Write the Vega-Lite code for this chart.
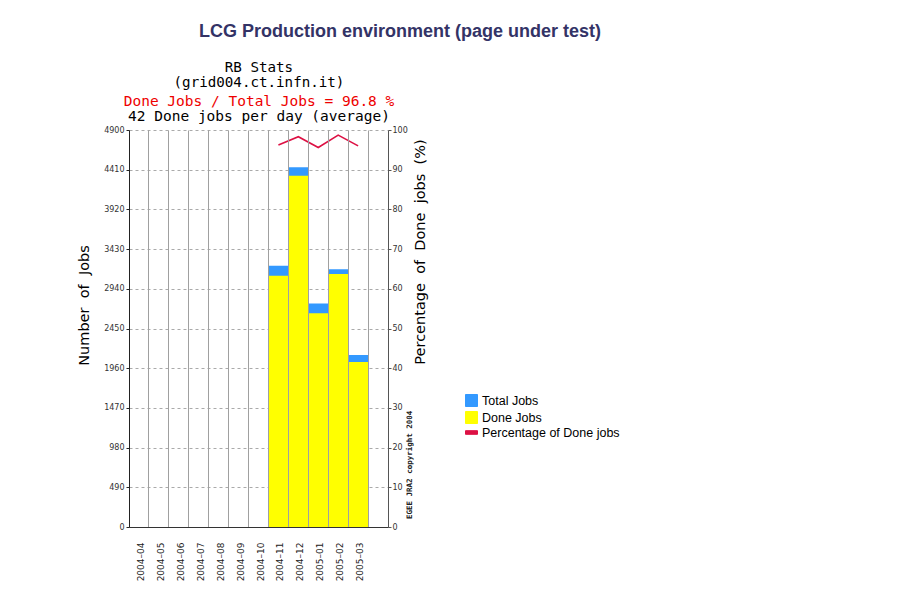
{
  "$schema": "https://vega.github.io/schema/vega-lite/v6.json",
  "width": 259,
  "height": 397,
  "autosize": {"type": "none"},
  "padding": {"left": 129, "top": 130, "right": 531, "bottom": 70},
  "background": "white",
  "title": {
    "text": "LCG Production environment (page under test)",
    "anchor": "middle",
    "frame": "group",
    "dx": 141.5,
    "offset": 6,
    "baseline": "alphabetic",
    "font": "Liberation Sans",
    "fontSize": 18,
    "fontWeight": "bold",
    "color": "#333366"
  },
  "config": {
    "view": {"stroke": null},
    "axis": {"labelFont": "DejaVu Sans", "titleFont": "DejaVu Sans"}
  },
  "data": {
    "values": [
      {"month": "2004-04", "total": 0, "done": 0},
      {"month": "2004-05", "total": 0, "done": 0},
      {"month": "2004-06", "total": 0, "done": 0},
      {"month": "2004-07", "total": 0, "done": 0},
      {"month": "2004-08", "total": 0, "done": 0},
      {"month": "2004-09", "total": 0, "done": 0},
      {"month": "2004-10", "total": 0, "done": 0},
      {"month": "2004-11", "total": 3224, "done": 3100, "pct": 96.2},
      {"month": "2004-12", "total": 4440, "done": 4335, "pct": 98.3},
      {"month": "2005-01", "total": 2760, "done": 2638, "pct": 95.6},
      {"month": "2005-02", "total": 3182, "done": 3123, "pct": 98.7},
      {"month": "2005-03", "total": 2122, "done": 2035, "pct": 96.0}
    ]
  },
  "resolve": {"scale": {"y": "independent"}, "axis": {"x": "independent"}},
  "layer": [
    {
      "mark": {"type": "bar"},
      "encoding": {
        "x": {
          "field": "month",
          "type": "ordinal",
          "scale": {
            "domain": ["2004-04","2004-05","2004-06","2004-07","2004-08","2004-09","2004-10","2004-11","2004-12","2005-01","2005-02","2005-03"," "],
            "paddingInner": 0,
            "paddingOuter": 0
          },
          "axis": {
            "orient": "bottom",
            "title": null,
            "bandPosition": 0,
            "grid": true,
            "gridColor": "#a0a0a0",
            "gridWidth": 1,
            "ticks": false,
            "labelAngle": -90,
            "labelAlign": "right",
            "labelBaseline": "middle",
            "labelOffset": 2,
            "labelPadding": 15,
            "labelFont": "DejaVu Sans",
            "labelFontSize": 9,
            "labelColor": "#222222",
            "labelExpr": "replace(datum.label, '-', '–')",
            "domain": true,
            "domainColor": "#333333",
            "zindex": 1
          }
        },
        "y": {
          "field": "total",
          "type": "quantitative",
          "scale": {"domain": [0, 4900], "nice": false, "zero": true},
          "axis": {
            "orient": "left",
            "values": [0, 490, 980, 1470, 1960, 2450, 2940, 3430, 3920, 4410, 4900],
            "format": "d",
            "grid": false,
            "zindex": 1,
            "domainColor": "#222222",
            "tickColor": "#222222",
            "tickSize": 3,
            "labelPadding": 2,
            "labelFontSize": 8,
            "labelColor": "#333333",
            "title": "Number\u00a0\u00a0of\u00a0\u00a0Jobs",
            "titleFontSize": 14.5,
            "titleFontWeight": "normal",
            "titleColor": "#000000",
            "titlePadding": 12,
            "titleY": 175
          }
        },
        "color": {
          "datum": "Total Jobs",
          "type": "nominal",
          "scale": {
            "domain": ["Total Jobs", "Done Jobs", "Percentage of Done jobs"],
            "range": ["#3399ff", "#ffff00", "#dd1144"]
          },
          "legend": {
            "orient": "none",
            "legendX": 336,
            "legendY": 264,
            "title": null,
            "padding": 0,
            "symbolType": "square",
            "symbolSize": 144,
            "labelFont": "Liberation Sans",
            "labelFontSize": 12.5,
            "labelColor": "#000000",
            "labelOffset": 4,
            "rowPadding": 0,
            "encode": {
              "symbols": {
                "update": {
                  "shape": {"signal": "datum.value === 'Percentage of Done jobs' ? 'M-1,-0.3H1V0.3H-1Z' : 'square'"},
                  "fill": {"scale": "color", "field": "value"},
                  "stroke": {"signal": "datum.value === 'Percentage of Done jobs' ? 'transparent' : '#333333'"},
                  "strokeWidth": {"value": 1},
                  "opacity": {"value": 1},
                  "fillOpacity": {"value": 1}
                }
              }
            }
          }
        }
      }
    },
    {
      "mark": {"type": "bar"},
      "encoding": {
        "x": {
          "field": "month",
          "type": "ordinal",
          "scale": {
            "domain": ["2004-04","2004-05","2004-06","2004-07","2004-08","2004-09","2004-10","2004-11","2004-12","2005-01","2005-02","2005-03"," "],
            "paddingInner": 0,
            "paddingOuter": 0
          },
          "axis": {
            "orient": "top",
            "offset": 43.5,
            "labels": false,
            "ticks": false,
            "domain": false,
            "grid": false,
            "minExtent": 0,
            "maxExtent": 0,
            "title": ["RB Stats", "(grid004.ct.infn.it)"],
            "titleLineHeight": 15,
            "titleFont": "DejaVu Sans Mono",
            "titleFontSize": 14.2,
            "titleFontWeight": "normal",
            "titleColor": "#000000",
            "titleBaseline": "alphabetic",
            "titlePadding": 0
          }
        },
        "y": {
          "field": "done",
          "type": "quantitative",
          "scale": {"domain": [0, 4900], "nice": false},
          "axis": {
            "orient": "left",
            "values": [490, 980, 1470, 1960, 2450, 2940, 3430, 3920, 4410, 4900],
            "grid": true,
            "gridColor": "#aaaaaa",
            "gridDash": [3, 3],
            "gridWidth": 1,
            "labels": false,
            "ticks": false,
            "domain": false,
            "title": null,
            "zindex": 0
          }
        },
        "color": {"datum": "Done Jobs", "type": "nominal"}
      }
    },
    {
      "mark": {"type": "line", "strokeWidth": 1.6},
      "encoding": {
        "x": {
          "field": "month",
          "type": "ordinal",
          "scale": {
            "domain": ["2004-04","2004-05","2004-06","2004-07","2004-08","2004-09","2004-10","2004-11","2004-12","2005-01","2005-02","2005-03"," "],
            "paddingInner": 0,
            "paddingOuter": 0
          },
          "axis": {
            "orient": "top",
            "offset": 25,
            "labels": false,
            "ticks": false,
            "domain": false,
            "grid": false,
            "minExtent": 0,
            "maxExtent": 0,
            "title": "Done Jobs / Total Jobs = 96.8 %",
            "titleFont": "DejaVu Sans Mono",
            "titleFontSize": 14.5,
            "titleFontWeight": "normal",
            "titleColor": "#ee0000",
            "titleBaseline": "alphabetic",
            "titlePadding": 0
          }
        },
        "y": {
          "field": "pct",
          "type": "quantitative",
          "scale": {"domain": [0, 100], "nice": false},
          "axis": {
            "orient": "right",
            "values": [0, 10, 20, 30, 40, 50, 60, 70, 80, 90, 100],
            "format": "d",
            "grid": false,
            "domainColor": "#555555",
            "tickColor": "#555555",
            "tickSize": 3,
            "labelPadding": 1,
            "labelFontSize": 8,
            "labelColor": "#333333",
            "title": "Percentage\u00a0\u00a0of\u00a0\u00a0Done\u00a0\u00a0jobs\u00a0\u00a0(%)",
            "titleAngle": 270,
            "titleBaseline": "top",
            "titleAlign": "center",
            "titleY": 121.5,
            "titlePadding": 6,
            "titleFontSize": 14.5,
            "titleFontWeight": "normal",
            "titleColor": "#000000"
          }
        },
        "color": {"datum": "Percentage of Done jobs", "type": "nominal"}
      }
    },
    {
      "data": {"values": [{"month": " ", "note": "EGEE JRA2 copyright 2004"}]},
      "mark": {
        "type": "text",
        "angle": 270,
        "align": "left",
        "baseline": "middle",
        "dx": 8,
        "dy": 32,
        "font": "DejaVu Sans Mono",
        "fontSize": 7.5,
        "fontWeight": "bold",
        "color": "#222222"
      },
      "encoding": {
        "x": {
          "field": "month",
          "type": "ordinal",
          "scale": {
            "domain": ["2004-04","2004-05","2004-06","2004-07","2004-08","2004-09","2004-10","2004-11","2004-12","2005-01","2005-02","2005-03"," "],
            "paddingInner": 0,
            "paddingOuter": 0
          },
          "axis": {
            "orient": "top",
            "offset": 9.7,
            "labels": false,
            "ticks": false,
            "domain": false,
            "grid": false,
            "minExtent": 0,
            "maxExtent": 0,
            "title": "42 Done jobs per day (average)",
            "titleFont": "DejaVu Sans Mono",
            "titleFontSize": 14.5,
            "titleFontWeight": "normal",
            "titleColor": "#000000",
            "titleBaseline": "alphabetic",
            "titlePadding": 0
          }
        },
        "y": {"datum": 0, "type": "quantitative", "scale": {"domain": [0, 100], "nice": false}, "axis": null},
        "text": {"field": "note", "type": "nominal"}
      }
    }
  ]
}
